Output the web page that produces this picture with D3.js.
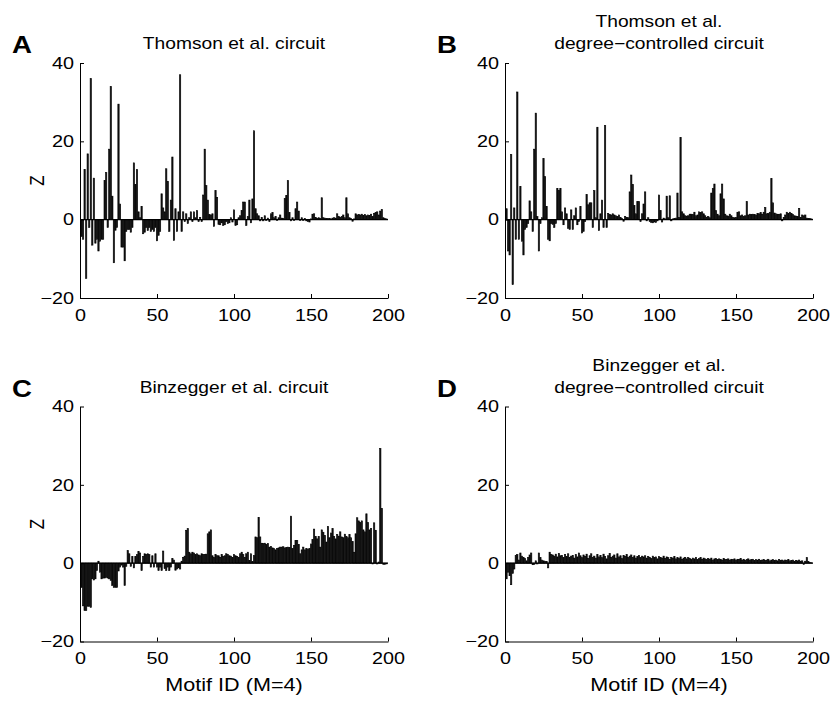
<!DOCTYPE html>
<html><head><meta charset="utf-8">
<script src="https://cdn.jsdelivr.net/npm/d3@7/dist/d3.min.js"></script>
<style>body{margin:0;background:#fff}text{font-family:"Liberation Sans",Arial,Helvetica,sans-serif;fill:#000}</style>
</head><body><svg id="c" width="831" height="701"></svg>
<script>
// Motif IDs 1..199 (M=4)
const motifIds = d3.range(1, 200);
const xTicks = [0, 50, 100, 150, 200];
const yTicks = [-20, 0, 20, 40];

const zThomson = [
-4.3,-5,12.8,-15,16.8,-2,36,-6.5,10.6,-6,-5,-8,-5.5,-5,-5,10,12,-2,18,34,
6,-11,-2.7,-2,29.5,4,-7,-7,-10.5,-3,-2.5,-2.5,-3.2,-2,14.5,9,12.8,2,0.5,3.4,
-3.6,-3.2,-2,-2.8,-2,-3,-2.5,-3,-2,-5.4,-4,-3,6.6,3,2,13,9.8,-3,5,16,
-5.3,2.8,-3,2,37,-3,2,-0.5,1.5,-1,
0.5,2,-0.5,2,0.5,2.3,-0.5,0.6,-0.5,6.3,18,8.7,5,1.3,1.2,1.5,-1.7,7.4,5.7,-1.2,
-1.3,-0.8,-1.5,-1.3,-0.5,-1,-0.8,0.5,-0.6,2.5,-1.5,-1.3,0.5,1,2.3,4.5,4.5,-1.5,0.8,5,
-0.8,5.3,22.7,2.8,1.5,1,-0.3,0.6,-0.3,1,-0.2,0.4,-0.5,1.5,1.8,0.5,0.8,-0.2,0.5,1.2,
0.4,0.3,5.4,6.2,10,1.8,-0.3,0.5,-0.2,2.8,4.5,2.2,-0.2,0.5,-0.2,0.3,-0.3,-0.5,-0.6,0.2,
1.4,1.5,0.6,0.3,0.5,0.3,5.6,0.5,0.4,0.3,0.3,0.3,0.2,0.4,0.5,0.4,1.5,0.8,0.6,0.8,
1.2,0.5,5.6,1.5,0.5,0.3,-0.4,0.2,1.5,1.2,1.3,1.2,1.4,1.1,1.3,1.0,1.2,1.1,1.4,0.8,
1.6,1.8,2,1.2,2.2,2.6,0.5,0.3,0.2];

const zThomsonDeg = [
2.8,-8,-9,16.6,-16.6,3,-5,32.6,-5,8.5,-5.5,-9,-2.5,-2,-1,4.8,2,-3,18,27.2,
0.8,-8,-1,0.5,15.6,11,3.4,-5,-5.4,-1,-1.2,-2,-1,8,7.5,8,2,-1.3,3,1.5,
-2.2,-2.5,2.5,-2.5,1,3,-1.3,-0.5,3.4,-3.4,-3,-0.5,6.4,3.8,4.3,4.3,-2,7.4,0.5,23.6,
-2.8,1.5,5,-2,24,-2,1.6,1.3,1.2,1.5,
1.2,1.0,0.8,1.2,0.6,0.3,-0.4,0.8,0.6,0.5,7.1,11.4,9,3.6,1.5,4.6,4.6,-0.5,1.5,4,
7.1,-0.3,0.5,-0.5,-0.7,-0.8,-0.6,-0.7,-0.3,6.3,2.3,-0.6,0.4,0.2,6,0.5,6.1,-0.3,0.2,0.3,
0.4,6.8,0.6,21,2,1.5,1,0.9,1,1.4,1.4,1.3,1.9,1,1.2,2,1.8,2,1.5,1,
0.6,0.8,0.5,6.8,8,9.1,2.3,1.4,1,6.6,9.1,5.3,1.4,1,0.9,1.4,1,0.6,0.5,0.6,
1.9,2,1,1.2,0.8,1,4.6,1.2,1.4,1.3,1.4,1.3,1.2,1.6,1.5,1.8,1.4,1.9,3.1,1.5,
1.6,1.9,10.5,4.3,1.7,1.5,1.4,1.3,1.5,-0.3,0.6,1.2,1.9,1.6,1.9,1.6,1.3,1,0.9,0.8,
2.9,0.6,1.2,1,1.2,0.4,0.3,0.3,0.2];

const zBinzegger = [
-6.2,-10.9,-12.1,-12.1,-11,-11,-11.3,-4,-4.3,-4,-1.9,0.5,-2.3,-4,-3.8,-3.8,-3.6,-3.8,-4,-4.4,
-5.7,-6.2,-6.2,-6.2,-2,-1,-0.5,-1,-5.7,-0.8,3.2,2.4,-0.8,1.7,-1.2,1.7,2.2,3,2.6,-1.9,
1.7,2.4,2.2,2.4,2.2,-1,1.9,-1,2.4,-1,-1.9,-1,-1.9,3.1,-1.4,-1.9,-1,-1.9,-1,1.2,
0.8,-1.8,-1.5,-1.2,-1.5,0.5,1.5,1.8,8.4,8.8,
2.8,2.4,2.8,2.6,2.2,2.4,2.1,1.9,2.4,2.2,2.2,2.3,7.5,8,8.5,1.9,1.5,2.2,1.9,1.9,
1.5,2.2,1.7,1.9,2.4,2.2,1.9,1.8,1.5,2.2,1.9,1.7,1.5,2.4,2.8,2.2,1.5,2.4,2.8,0.7,
2.4,0.4,2,6.7,6.5,11.7,6.7,5.1,5,5.1,4.8,5,4.1,4.3,3.9,3.7,3.4,3.7,3.9,4.1,
4.1,4.2,3.9,4,4.1,4,12,3.7,4.5,5.8,5.8,4.8,2.4,3.4,4.1,3.4,3.7,3.6,3.7,4.9,
6,8.7,6.8,6.2,6.8,4.1,8.5,7.9,7.1,5.4,9.4,6.5,7.7,8.8,6.8,6.2,7.3,6.9,8,6.7,
6.5,7.4,6.8,6.5,7.3,6.5,5.5,2.8,7.5,11.6,10.8,10.4,10.8,8.5,8,12.6,10.4,8.5,8.8,-0.2,
10.3,8.4,-0.2,0.3,29.3,14,-0.3,-0.3,-0.2];

const zBinzeggerDeg = [
-4,-2.3,-3.2,-5.5,-2.6,-1.5,2,2.2,0.8,2.6,1.8,1.5,1.2,0.6,1.4,2.1,2.6,-0.4,-0.3,0.6,
-0.2,2.6,1.4,0.8,0.6,0.5,0.4,-1.2,2.8,2.2,
2.1,1.8,2.3,1.6,2.5,1.9,2.0,1.4,2.2,1.7,2.4,1.5,1.8,2.0,1.3,2.2,1.6,2.6,1.9,1.4,
2.1,1.7,2.3,1.2,1.9,2.4,1.5,1.8,1.3,2.2,
1.6,2.0,1.4,2.3,1.7,1.1,1.9,2.5,1.5,1.8,2.1,1.3,2.4,1.6,1.9,1.2,2.0,1.7,2.2,1.4,
1.8,2.1,1.5,1.9,1.3,1.7,2.0,1.4,1.8,1.6,
1.9,1.3,1.7,1.5,1.2,1.8,1.4,1.6,1.1,1.7,1.5,1.3,1.8,1.2,1.6,1.4,1.0,1.5,1.3,1.7,
1.1,1.4,1.2,1.6,1.0,1.3,1.5,1.1,1.4,1.2,
1.0,1.3,1.1,1.5,0.9,1.2,1.4,1.0,1.3,1.1,0.9,1.2,1.0,1.3,0.8,1.1,1.2,0.9,1.1,1.0,
0.8,1.2,0.9,1.0,1.1,0.8,1.0,0.9,1.1,0.8,
1.0,0.9,1.2,0.8,1.0,0.7,0.9,1.1,0.8,0.9,1.0,0.7,0.9,0.8,1.0,0.7,0.8,0.9,0.7,0.8,
1.0,0.6,0.8,0.9,0.7,0.8,0.6,0.9,0.7,0.8,
0.6,0.8,0.7,0.9,0.6,0.7,0.8,0.5,0.7,0.6,0.8,0.5,0.6,-0.3,0.5,1.4,0.4,0.2,0.1];

const panels = [
  {letter:"A", title:["Thomson et al. circuit"], values:zThomson, left:80, top:63, ylab:true, xlab:false},
  {letter:"B", title:["Thomson et al.","degree\u2212controlled circuit"], values:zThomsonDeg, left:505, top:63, ylab:false, xlab:false},
  {letter:"C", title:["Binzegger et al. circuit"], values:zBinzegger, left:80, top:406.5, ylab:true, xlab:true},
  {letter:"D", title:["Binzegger et al.","degree\u2212controlled circuit"], values:zBinzeggerDeg, left:505, top:406.5, ylab:false, xlab:true}
];

const W = 308, H = 235, SX = 1.2;
const svg = d3.select("#c");
const fmt = d => d < 0 ? "\u2212" + Math.abs(d) : String(d);

// text helper with horizontal stretch
function label(x, y, txt, size, anchor, weight, rot) {
  const g = svg.append("g").attr("transform", `translate(${x},${y})` + (rot ? ` rotate(${rot})` : "") + ` scale(${rot ? 1 : SX},${rot ? SX : 1})`);
  g.append("text").attr("text-anchor", anchor).attr("font-size", size)
    .attr("font-weight", weight || "normal").text(txt);
}

panels.forEach(p => {
  const g = svg.append("g").attr("transform", `translate(${p.left},${p.top})`);
  const x = d3.scaleLinear().domain([0, 200]).range([0, W]);
  const y = d3.scaleLinear().domain([-20, 40]).range([H, 0]);
  const bw = x(0.85) - x(0);
  g.selectAll("rect.bar").data(p.values).enter().append("rect")
    .attr("class", "bar")
    .attr("x", (d, i) => x(motifIds[i]) - bw / 2)
    .attr("width", bw)
    .attr("y", d => y(Math.max(0, d)))
    .attr("height", d => Math.abs(y(d) - y(0)))
    .attr("fill", "#111").attr("stroke", "#000").attr("stroke-width", 0.6);
  // baseline
  g.append("line").attr("x1", x(0)).attr("x2", x(200)).attr("y1", y(0)).attr("y2", y(0))
    .attr("stroke", "#000").attr("stroke-width", 1.2);
  // axes
  const xa = g.append("g").attr("transform", `translate(0,${H})`)
    .call(d3.axisBottom(x).tickValues(xTicks).tickSizeInner(-4).tickSizeOuter(0).tickPadding(8).tickFormat(d3.format("d")));
  const ya = g.append("g")
    .call(d3.axisLeft(y).tickValues(yTicks).tickSizeInner(-4).tickSizeOuter(0).tickPadding(8).tickFormat(fmt));
  [xa, ya].forEach(a => {
    a.select(".domain").attr("stroke", "#000").attr("stroke-width", 1);
    a.selectAll("line").attr("stroke", "#000");
    a.selectAll("text").attr("font-size", 16.5).attr("font-family", "Liberation Sans, Arial, sans-serif")
      .attr("transform", `scale(${SX},1)`);
  });
  xa.selectAll("text").attr("dy", "0.9em");
  ya.selectAll("text").attr("x", -6 / SX);
  // title
  const cx = p.left + W / 2;
  p.title.forEach((t, i) => {
    label(cx, p.title.length === 1 ? p.top - 14 : p.top - 36 + i * 22, t, 16, "middle");
  });
  label(p.left - 68, p.top - 10, p.letter, 23, "start", "bold");
  if (p.ylab) {
    label(p.left - 36, p.top + y(10), "Z", 17, "middle", "normal", -90);
  }
  if (p.xlab) {
    label(cx, p.top + H + 49, "Motif ID (M=4)", 18, "middle");
  }
});
</script></body></html>
